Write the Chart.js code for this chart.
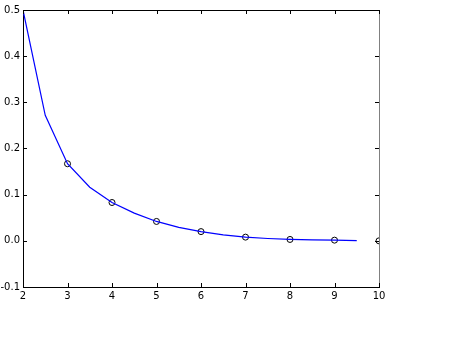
<!DOCTYPE html>
<html>
<head>
<meta charset="utf-8">
<script src="https://cdn.jsdelivr.net/npm/chart.js@4/dist/chart.umd.min.js"></script>
<style>
  body { margin: 0; background: #fff; }
  #wrap { width: 459px; height: 346px; }
</style>
</head>
<body>
<div id="wrap"><canvas id="chart" width="459" height="346"></canvas></div>
<script>
// curve sampled every 0.5, markers at the integers
const lineX = [2, 2.5, 3, 3.5, 4, 4.5, 5, 5.5, 6, 6.5, 7, 7.5, 8, 8.5, 9, 9.5];
const lineY = [0.5, 0.272, 0.167, 0.116, 0.083, 0.06, 0.042, 0.029, 0.02, 0.013, 0.008, 0.005, 0.003, 0.002, 0.0015, 0.0005];
const markX = [3, 4, 5, 6, 7, 8, 9, 10];
const markY = [0.167, 0.083, 0.042, 0.02, 0.008, 0.003, 0.0015, 0];
const xTicks = [2, 3, 4, 5, 6, 7, 8, 9, 10];
const yTicks = [-0.1, 0, 0.1, 0.2, 0.3, 0.4, 0.5];

const font = { family: "DejaVu Sans", size: 10 };

// matplotlib style: ticks pointing inwards on all four sides, plus top/right spines
const frame = {
  id: "frame",
  afterDraw(chart) {
    const { ctx, chartArea: a, scales } = chart;
    ctx.save();
    ctx.lineWidth = 1;
    ctx.strokeStyle = "#000";
    ctx.beginPath();
    ctx.moveTo(a.left, a.top + 0.5);
    ctx.lineTo(a.right, a.top + 0.5);
    ctx.stroke();
    ctx.strokeStyle = "#808080";
    ctx.beginPath();
    ctx.moveTo(a.right + 0.5, a.top);
    ctx.lineTo(a.right + 0.5, a.bottom);
    ctx.stroke();
    ctx.strokeStyle = "#000";
    ctx.beginPath();
    xTicks.forEach(v => {
      const px = Math.round(scales.x.getPixelForValue(v)) + 0.5;
      ctx.moveTo(px, a.bottom); ctx.lineTo(px, a.bottom - 4);
      ctx.moveTo(px, a.top); ctx.lineTo(px, a.top + 4);
    });
    yTicks.forEach(v => {
      const py = Math.round(scales.y.getPixelForValue(v)) + 0.5;
      ctx.moveTo(a.left, py); ctx.lineTo(a.left + 4, py);
      ctx.moveTo(a.right, py); ctx.lineTo(a.right - 4, py);
    });
    ctx.stroke();
    ctx.restore();
  }
};

new Chart(document.getElementById("chart"), {
  type: "scatter",
  data: {
    datasets: [{
      data: lineX.map((x, i) => ({ x, y: lineY[i] })),
      showLine: true,
      borderColor: "#0000ff",
      borderWidth: 1.2,
      pointRadius: 0,
      tension: 0
    }, {
      data: markX.map((x, i) => ({ x, y: markY[i] })),
      showLine: false,
      pointRadius: 3,
      pointBorderColor: "#000",
      pointBorderWidth: 1,
      pointBackgroundColor: "rgba(0,0,0,0)",
      clip: 0
    }]
  },
  options: {
    responsive: false,
    animation: false,
    layout: { padding: { top: 10, right: 80, left: 0, bottom: 0 } },
    plugins: { legend: { display: false }, tooltip: { enabled: false } },
    scales: {
      x: {
        type: "linear", min: 2, max: 10,
        afterBuildTicks: s => { s.ticks = xTicks.map(v => ({ value: v })); },
        afterFit: s => { s.height = 59; },
        grid: { display: false, drawTicks: false, tickLength: 0 },
        border: { display: true, color: "#000", width: 1 },
        ticks: { color: "#000", font, padding: 3, maxRotation: 0, callback: v => String(v) }
      },
      y: {
        type: "linear", min: -0.1, max: 0.5,
        afterBuildTicks: s => { s.ticks = yTicks.map(v => ({ value: v })); },
        afterFit: s => { s.width = 23; },
        grid: { display: false, drawTicks: false, tickLength: 0 },
        border: { display: true, color: "#000", width: 1 },
        ticks: { color: "#000", font, padding: 3, callback: v => v.toFixed(1) }
      }
    }
  },
  plugins: [frame]
});
</script>
</body>
</html>
